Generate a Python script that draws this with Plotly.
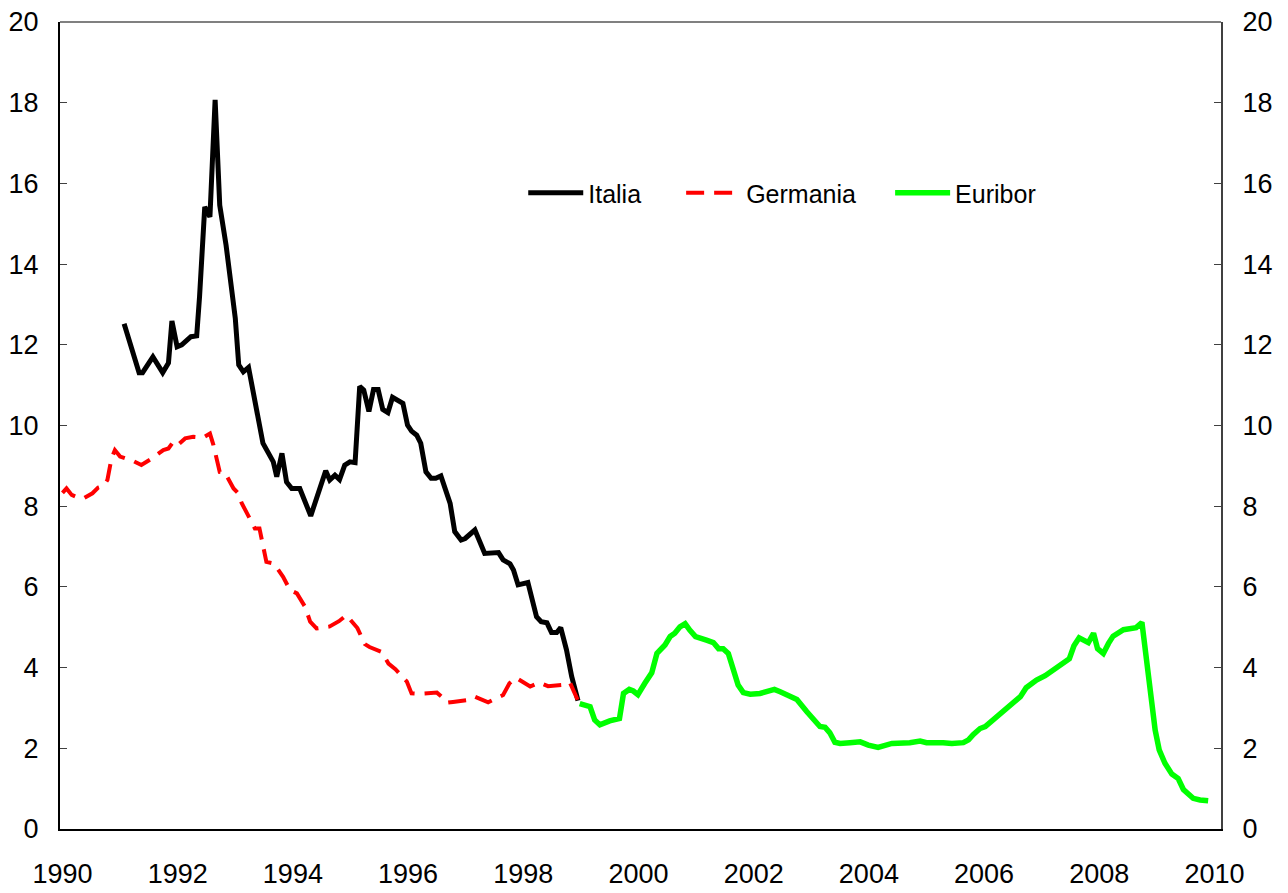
import plotly.graph_objects as go

# ---- data (decimal years, % values) ----
italia_x = [1991.07, 1991.33, 1991.39, 1991.57, 1991.74, 1991.84, 1991.90, 1991.99, 1992.07, 1992.23,
            1992.33, 1992.38, 1992.47, 1992.56, 1992.65, 1992.73, 1992.84, 1992.94, 1993.00, 1993.06,
            1993.14, 1993.23, 1993.48, 1993.66, 1993.72, 1993.81, 1993.89, 1993.98, 1994.12, 1994.31,
            1994.47, 1994.57, 1994.64, 1994.73, 1994.81, 1994.90, 1994.99, 1995.08, 1995.16, 1995.23,
            1995.32, 1995.40, 1995.48, 1995.56, 1995.65, 1995.73, 1995.91, 1995.99, 1996.06, 1996.15,
            1996.22, 1996.31, 1996.40, 1996.48, 1996.57, 1996.73, 1996.81, 1996.92, 1996.99, 1997.16,
            1997.33, 1997.45, 1997.57, 1997.65, 1997.77, 1997.83, 1997.91, 1998.08, 1998.23, 1998.31,
            1998.41, 1998.49, 1998.58, 1998.65, 1998.75, 1998.84, 1998.95]
italia_y = [12.52, 11.31, 11.31, 11.70, 11.31, 11.55, 12.59, 11.95, 12.00, 12.20,
            12.22, 13.20, 15.42, 15.17, 18.07, 15.46, 14.47, 13.36, 12.66, 11.50,
            11.33, 11.44, 9.56, 9.10, 8.73, 9.31, 8.60, 8.44, 8.44, 7.76,
            8.40, 8.88, 8.65, 8.77, 8.66, 9.02, 9.10, 9.08, 10.97, 10.88,
            10.35, 10.89, 10.89, 10.40, 10.32, 10.70, 10.55, 10.01, 9.86, 9.76,
            9.56, 8.85, 8.69, 8.69, 8.75, 8.07, 7.37, 7.16, 7.20, 7.41,
            6.83, 6.85, 6.85, 6.67, 6.57, 6.42, 6.05, 6.11, 5.26, 5.14,
            5.11, 4.87, 4.87, 4.99, 4.44, 3.78, 3.18]

germania_x = [1990.00, 1990.07, 1990.16, 1990.27, 1990.36, 1990.52, 1990.62, 1990.71, 1990.78, 1990.85,
              1990.91, 1991.00, 1991.23, 1991.37, 1991.55, 1991.75, 1991.84, 1991.91, 1991.98, 1992.13,
              1992.27, 1992.44, 1992.56, 1992.62, 1992.73, 1992.82, 1992.97, 1993.05, 1993.11, 1993.26,
              1993.34, 1993.42, 1993.54, 1993.67, 1993.83, 1993.95, 1994.07, 1994.21, 1994.30, 1994.41,
              1994.64, 1994.80, 1994.93, 1995.12, 1995.16, 1995.25, 1995.33, 1995.54, 1995.66, 1995.78,
              1995.98, 1996.06, 1996.18, 1996.50, 1996.58, 1996.67, 1996.78, 1997.05, 1997.16, 1997.39,
              1997.65, 1997.76, 1997.87, 1998.12, 1998.28, 1998.43, 1998.69, 1998.81, 1998.95]
germania_y = [8.33, 8.44, 8.28, 8.21, 8.19, 8.32, 8.46, 8.50, 8.65, 9.18,
              9.39, 9.23, 9.12, 9.02, 9.18, 9.39, 9.43, 9.57, 9.49, 9.68,
              9.72, 9.70, 9.80, 9.52, 8.85, 8.83, 8.44, 8.32, 8.08, 7.66,
              7.45, 7.45, 6.62, 6.58, 6.25, 5.92, 5.84, 5.51, 5.14, 4.97,
              5.02, 5.15, 5.30, 4.98, 4.85, 4.58, 4.51, 4.39, 4.10, 3.96,
              3.65, 3.36, 3.35, 3.38, 3.28, 3.13, 3.15, 3.20, 3.28, 3.14,
              3.32, 3.61, 3.75, 3.53, 3.63, 3.54, 3.57, 3.63, 3.18]

euribor_x = [1998.98, 1999.16, 1999.24, 1999.33, 1999.50, 1999.67, 1999.74, 1999.84, 1999.91, 1999.99,
             2000.11, 2000.23, 2000.32, 2000.46, 2000.55, 2000.63, 2000.72, 2000.81, 2000.89, 2000.99,
             2001.18, 2001.30, 2001.39, 2001.47, 2001.56, 2001.65, 2001.73, 2001.82, 2001.94, 2002.11,
             2002.25, 2002.36, 2002.46, 2002.63, 2002.75, 2002.92, 2003.03, 2003.15, 2003.24, 2003.32,
             2003.41, 2003.50, 2003.67, 2003.85, 2003.99, 2004.16, 2004.40, 2004.63, 2004.71, 2004.89,
             2005.00, 2005.29, 2005.44, 2005.64, 2005.73, 2005.81, 2005.93, 2006.02, 2006.16, 2006.28,
             2006.42, 2006.63, 2006.73, 2006.91, 2007.06, 2007.20, 2007.32, 2007.48, 2007.56, 2007.65,
             2007.81, 2007.90, 2007.97, 2008.07, 2008.16, 2008.24, 2008.42, 2008.56, 2008.64, 2008.74,
             2008.82, 2008.91, 2008.97, 2009.04, 2009.14, 2009.26, 2009.37, 2009.46, 2009.63, 2009.75,
             2009.89]
euribor_y = [3.11, 3.03, 2.70, 2.58, 2.68, 2.74, 3.36, 3.46, 3.42, 3.33,
             3.61, 3.87, 4.35, 4.56, 4.77, 4.85, 5.01, 5.09, 4.93, 4.77,
             4.68, 4.62, 4.47, 4.47, 4.35, 3.98, 3.57, 3.38, 3.34, 3.36,
             3.40, 3.46, 3.40, 3.30, 3.21, 2.91, 2.74, 2.54, 2.52, 2.39,
             2.15, 2.12, 2.14, 2.16, 2.08, 2.02, 2.12, 2.12, 2.14, 2.18,
             2.14, 2.14, 2.12, 2.14, 2.21, 2.34, 2.49, 2.54, 2.71, 2.83,
             2.99, 3.28, 3.50, 3.69, 3.80, 3.94, 4.08, 4.22, 4.54, 4.74,
             4.62, 4.85, 4.47, 4.35, 4.60, 4.78, 4.94, 4.96, 4.99, 5.12,
             4.10, 3.20, 2.45, 1.96, 1.63, 1.36, 1.25, 0.98, 0.76, 0.72,
             0.70]

x_ticks = [1990, 1992, 1994, 1996, 1998, 2000, 2002, 2004, 2006, 2008, 2010]
y_ticks = [0, 2, 4, 6, 8, 10, 12, 14, 16, 18, 20]

FONT = "Arial, Liberation Sans, sans-serif"

fig = go.Figure()
fig.add_trace(go.Scatter(x=italia_x, y=italia_y, name="Italia", mode="lines",
                         line=dict(color="#000000", width=5), legend="legend"))
fig.add_trace(go.Scatter(x=germania_x, y=germania_y, name="Germania", mode="lines",
                         line=dict(color="#FF0000", width=4, dash="18px,10px"), legend="legend2"))
fig.add_trace(go.Scatter(x=euribor_x, y=euribor_y, name="Euribor", mode="lines",
                         line=dict(color="#00FF00", width=5.5), legend="legend3"))
# invisible trace to activate the right-hand axis
fig.add_trace(go.Scatter(x=[2000], y=[10], yaxis="y2", mode="lines", showlegend=False,
                         hoverinfo="skip", line=dict(color="rgba(0,0,0,0)")))

leg_common = dict(orientation="h", yanchor="middle", y=0.788, xanchor="left",
                  font=dict(family=FONT, size=25, color="#000000"),
                  bgcolor="rgba(0,0,0,0)", itemwidth=55)

fig.update_layout(
    width=1288, height=893,
    margin=dict(l=60, r=67, t=22, b=64, autoexpand=False),
    paper_bgcolor="white", plot_bgcolor="white",
    font=dict(family=FONT, size=25, color="#000000"),
    legend=dict(x=0.399, **leg_common),
    legend2=dict(x=0.535, **leg_common),
    legend3=dict(x=0.715, **leg_common),
    xaxis=dict(range=[1989.957, 2010.113], tickmode="array", tickvals=x_ticks,
               ticktext=[str(t) for t in x_ticks], ticks="", showgrid=False, zeroline=False,
               showline=True, linecolor="#000000", linewidth=2, automargin=False,
               tickfont=dict(family=FONT, size=27), ticklabelstandoff=20),
    yaxis=dict(range=[0, 20], tickmode="array", tickvals=y_ticks, ticks="inside", ticklen=7,
               tickcolor="#404040", tickwidth=1, showgrid=False, zeroline=False, automargin=False,
               showline=True, linecolor="#000000", linewidth=2,
               tickfont=dict(family=FONT, size=27), ticklabelstandoff=14),
    yaxis2=dict(range=[0, 20], overlaying="y", side="right", tickmode="array", tickvals=y_ticks,
                ticks="inside", ticklen=7, tickcolor="#404040", tickwidth=1, showgrid=False,
                zeroline=False, showline=True, linecolor="#404040", linewidth=2, automargin=False,
                tickfont=dict(family=FONT, size=27), ticklabelstandoff=14),
    shapes=[dict(type="line", xref="paper", yref="paper", x0=0, x1=1, y0=1, y1=1,
                 line=dict(color="#808080", width=2), layer="above")],
    showlegend=True,
)

fig.write_html("out.html", config={"displayModeBar": False},
               post_script="document.body.style.margin='0px';document.body.style.overflow='hidden';")
